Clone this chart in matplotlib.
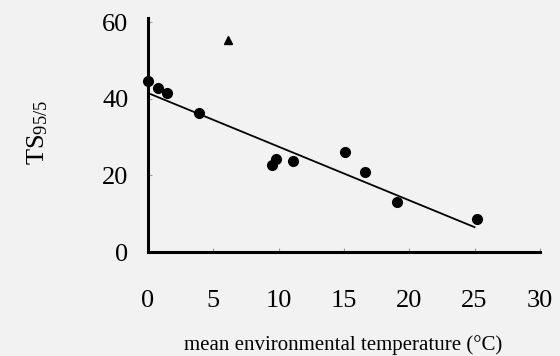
import matplotlib
matplotlib.use('Agg')

import matplotlib.pyplot as plt
import numpy as np


# mean environmental temperature (deg C) and TS95/5
temp = [0.0, 0.75, 1.5, 3.9, 9.5, 9.8, 11.1, 15.1, 16.6, 19.1, 25.2]
ts = [44.5, 42.7, 41.6, 36.2, 22.6, 24.2, 23.7, 26.0, 20.8, 13.1, 8.5]

# outlier drawn as a triangle
temp_out = [6.1]
ts_out = [55.3]

# fitted line
fit_intercept = 41.5
fit_slope = -1.4
fit_range = [0.0, 25.0]

xticks = [0, 5, 10, 15, 20, 25, 30]
yticks = [0, 20, 40, 60]

BG = '#f2f2f2'

plt.rcParams['font.family'] = ['Liberation Serif', 'DejaVu Serif']
plt.rcParams['mathtext.fontset'] = 'custom'
plt.rcParams['mathtext.rm'] = 'Liberation Serif'
plt.rcParams['mathtext.it'] = 'Liberation Serif:italic'

fig = plt.figure(figsize=(5.6, 3.56), dpi=100, facecolor=BG)
ax = fig.add_axes([0.264, 0.292, 0.700, 0.646], facecolor=BG)

ax.plot(temp, ts, 'o', color='black', ms=7, zorder=3, clip_on=False)
ax.plot(temp_out, ts_out, '^', color='black', ms=5.5, zorder=3, clip_on=False)

fx = np.array(fit_range)
ax.plot(fx, fit_intercept + fit_slope * fx, color='black', lw=1.3)

ax.set_xlim(0, 30)
ax.set_ylim(0, 60)
ax.spines['left'].set_bounds(0, 61)
ax.spines['top'].set_visible(False)
ax.spines['right'].set_visible(False)
for s in ('left', 'bottom'):
    ax.spines[s].set_linewidth(2.2)

ax.set_xticks(xticks)
ax.set_yticks(yticks)
ax.tick_params(axis='x', direction='in', length=3, width=0.8, color='#999999',
               pad=27, labelsize=19)
ax.tick_params(axis='y', direction='in', length=3, width=0.8, color='#999999',
               pad=14, labelsize=19)

ax.set_ylabel(r'$\mathrm{TS}_{95/5}$', fontsize=19)
ax.yaxis.set_label_coords(-0.25, 0.52)
ax.set_xlabel('mean environmental temperature (°C)', fontsize=15, va='center')
ax.xaxis.set_label_coords(0.497, -0.405)

fig.savefig('out.png', dpi=100, facecolor=BG)
